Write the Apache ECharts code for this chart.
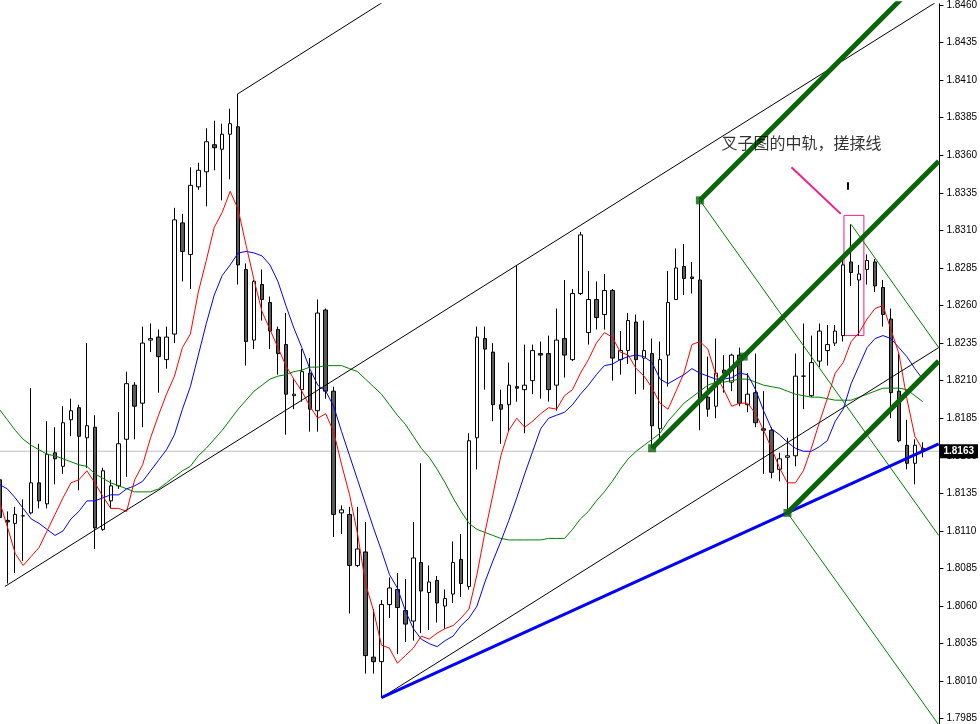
<!DOCTYPE html>
<html>
<head>
<meta charset="utf-8">
<script src="https://cdn.jsdelivr.net/npm/echarts@6/dist/echarts.min.js"></script>
<style>html,body{margin:0;padding:0;background:#fff;}#c{width:980px;height:724px;}</style>
</head>
<body>
<div id="c"></div>
<script>
// first candle index (partially visible bar on the left edge)
const firstIndex = -1;

const opens = [
1.8144,1.8117,1.8115,1.8120,1.8122,1.8142,1.8128,1.8162,1.8153,1.8184,
1.8192,1.8172,1.8179,1.8111,1.8130,1.8140,1.8171,1.8207,1.8195,1.8237,
1.8239,1.8224,1.8241,1.8315,1.8294,1.8339,1.8349,1.8367,1.8364,1.8374,
1.8379,1.8284,1.8237,1.8274,1.8262,1.8244,1.8234,1.8200,1.8204,1.8215,
1.8190,1.8257,1.8203,1.8122,1.8121,1.8087,1.8096,1.8026,1.8023,1.8061,
1.8071,1.8057,1.8050,1.8089,1.8069,1.8077,1.8060,1.8068,1.8091,1.8073,
1.8172,1.8238,1.8229,1.8194,1.8194,1.8206,1.8204,1.8210,1.8228,1.8228,
1.8207,1.8238,1.8224,1.8268,1.8242,1.8264,1.8254,1.8270,1.8224,1.8230,
1.8249,1.8225,1.8228,1.8178,1.8227,1.8264,1.8286,1.8279,1.8277,1.8199,
1.8193,1.8217,1.8209,1.8227,1.8194,1.8202,1.8178,1.8177,1.8151,1.8159,
1.8160,1.8213,1.8200,1.8223,1.8230,1.8235,1.8240,1.8289,1.8277,1.8284,
1.8289,1.8272,1.8251,1.8203,1.8167,1.8155,1.8165];
const closes = [
1.8119,1.8116,1.8121,1.8120,1.8142,1.8130,1.8161,1.8158,1.8182,1.8190,
1.8173,1.8180,1.8112,1.8150,1.8140,1.8168,1.8208,1.8193,1.8235,1.8238,
1.8226,1.8239,1.8317,1.8296,1.8340,1.8350,1.8369,1.8365,1.8374,1.8381,
1.8287,1.8236,1.8276,1.8264,1.8243,1.8228,1.8201,1.8201,1.8216,1.8191,
1.8255,1.8203,1.8121,1.8124,1.8087,1.8098,1.8027,1.8023,1.8061,1.8072,
1.8059,1.8048,1.8092,1.8070,1.8076,1.8062,1.8065,1.8089,1.8075,1.8170,
1.8239,1.8231,1.8194,1.8191,1.8207,1.8205,1.8207,1.8230,1.8227,1.8204,
1.8237,1.8227,1.8268,1.8307,1.8264,1.8252,1.8270,1.8225,1.8230,1.8250,
1.8224,1.8230,1.8180,1.8224,1.8262,1.8285,1.8278,1.8278,1.8198,1.8191,
1.8215,1.8215,1.8227,1.8195,1.8201,1.8182,1.8177,1.8149,1.8158,1.8160,
1.8213,1.8213,1.8222,1.8243,1.8234,1.8243,1.8287,1.8282,1.8281,1.8290,
1.8273,1.8254,1.8202,1.8170,1.8155,1.8167,1.8163];
const lows = [
1.8117,1.8075,1.8082,1.8090,1.8121,1.8125,1.8125,1.8141,1.8148,1.8173,
1.8137,1.8152,1.8098,1.8110,1.8125,1.8138,1.8146,1.8171,1.8179,1.8229,
1.8202,1.8218,1.8235,1.8276,1.8271,1.8337,1.8326,1.8350,1.8330,1.8344,
1.8274,1.8220,1.8231,1.8250,1.8231,1.8214,1.8174,1.8191,1.8196,1.8176,
1.8176,1.8198,1.8106,1.8108,1.8055,1.8086,1.8015,1.8015,1.7999,1.8052,
1.8028,1.8036,1.8037,1.8042,1.8044,1.8049,1.8045,1.8062,1.8066,1.8071,
1.8151,1.8204,1.8183,1.8168,1.8176,1.8196,1.8175,1.8201,1.8198,1.8196,
1.8190,1.8212,1.8223,1.8267,1.8234,1.8244,1.8244,1.8210,1.8214,1.8221,
1.8201,1.8204,1.8165,1.8171,1.8206,1.8264,1.8267,1.8268,1.8177,1.8186,
1.8185,1.8202,1.8203,1.8193,1.8189,1.8179,1.8148,1.8145,1.8143,1.8122,
1.8153,1.8191,1.8199,1.8219,1.8220,1.8233,1.8236,1.8273,1.8240,1.8274,
1.8269,1.8246,1.8185,1.8169,1.8151,1.8141,1.8159];
const highs = [
1.8147,1.8123,1.8126,1.8131,1.8205,1.8168,1.8183,1.8179,1.8193,1.8198,
1.8194,1.8235,1.8187,1.8152,1.8144,1.8189,1.8216,1.8209,1.8246,1.8248,
1.8244,1.8246,1.8325,1.8321,1.8352,1.8355,1.8378,1.8383,1.8381,1.8391,
1.8401,1.8288,1.8277,1.8284,1.8266,1.8246,1.8255,1.8211,1.8231,1.8225,
1.8264,1.8258,1.8206,1.8127,1.8126,1.8126,1.8116,1.8058,1.8064,1.8079,
1.8082,1.8078,1.8116,1.8155,1.8087,1.8080,1.8071,1.8103,1.8108,1.8175,
1.8246,1.8246,1.8235,1.8204,1.8222,1.8287,1.8234,1.8234,1.8236,1.8240,
1.8258,1.8277,1.8271,1.8309,1.8283,1.8276,1.8281,1.8271,1.8243,1.8255,
1.8254,1.8250,1.8238,1.8236,1.8283,1.8298,1.8301,1.8289,1.8330,1.8226,
1.8238,1.8227,1.8228,1.8232,1.8215,1.8228,1.8203,1.8179,1.8162,1.8172,
1.8228,1.8248,1.8240,1.8248,1.8247,1.8247,1.8291,1.8314,1.8287,1.8294,
1.8291,1.8277,1.8258,1.8228,1.8184,1.8171,1.8169];

// moving averages
const maRed = [
1.8130,1.8113,1.8095,1.8087,1.8093,1.8099,1.8110,1.8121,1.8132,1.8142,
1.8144,1.8150,1.8142,1.8133,1.8125,1.8125,1.8123,1.8144,1.8154,1.8172,
1.8187,1.8201,1.8213,1.8232,1.8241,1.8269,1.8290,1.8312,1.8322,1.8336,
1.8324,1.8300,1.8277,1.8256,1.8244,1.8232,1.8220,1.8211,1.8203,1.8193,
1.8185,1.8188,1.8176,1.8154,1.8134,1.8108,1.8075,1.8057,1.8034,1.8032,
1.8022,1.8027,1.8032,1.8040,1.8038,1.8042,1.8045,1.8047,1.8052,1.8058,
1.8081,1.8109,1.8134,1.8160,1.8177,1.8185,1.8179,1.8183,1.8188,1.8192,
1.8191,1.8200,1.8204,1.8215,1.8224,1.8235,1.8242,1.8239,1.8229,1.8227,
1.8218,1.8213,1.8205,1.8195,1.8191,1.8203,1.8215,1.8234,1.8236,1.8231,
1.8214,1.8204,1.8193,1.8195,1.8195,1.8188,1.8177,1.8165,1.8152,1.8142,
1.8142,1.8150,1.8165,1.8182,1.8198,1.8215,1.8222,1.8236,1.8242,1.8251,
1.8258,1.8260,1.8244,1.8228,1.8198,1.8173,1.8164];
const maBlue = [
1.8141,1.8138,1.8132,1.8125,1.8118,1.8115,1.8111,1.8107,1.8110,1.8118,
1.8123,1.8130,1.8130,1.8132,1.8134,1.8134,1.8138,1.8140,1.8143,1.8150,
1.8157,1.8164,1.8174,1.8191,1.8206,1.8227,1.8248,1.8267,1.8280,1.8287,
1.8295,1.8296,1.8295,1.8293,1.8287,1.8276,1.8260,1.8245,1.8232,1.8218,
1.8207,1.8203,1.8193,1.8176,1.8160,1.8144,1.8128,1.8112,1.8097,1.8081,
1.8072,1.8057,1.8045,1.8038,1.8035,1.8033,1.8037,1.8040,1.8047,1.8052,
1.8060,1.8076,1.8090,1.8103,1.8117,1.8132,1.8148,1.8163,1.8178,1.8185,
1.8187,1.8189,1.8194,1.8201,1.8207,1.8214,1.8220,1.8221,1.8224,1.8226,
1.8227,1.8226,1.8222,1.8211,1.8208,1.8211,1.8214,1.8218,1.8215,1.8213,
1.8211,1.8211,1.8212,1.8215,1.8214,1.8204,1.8190,1.8178,1.8174,1.8169,
1.8165,1.8163,1.8163,1.8166,1.8170,1.8183,1.8191,1.8208,1.8220,1.8232,
1.8238,1.8240,1.8238,1.8232,1.8226,1.8218,1.8211];
const maGreen = [
1.8191,1.8184,1.8177,1.8171,1.8167,1.8164,1.8161,1.8160,1.8158,1.8156,
1.8154,1.8153,1.8148,1.8145,1.8142,1.8140,1.8138,1.8136,1.8136,1.8136,
1.8138,1.8142,1.8146,1.8150,1.8153,1.8160,1.8165,1.8171,1.8177,1.8184,
1.8191,1.8197,1.8203,1.8207,1.8211,1.8213,1.8214,1.8216,1.8217,1.8219,
1.8219,1.8220,1.8220,1.8220,1.8218,1.8216,1.8211,1.8206,1.8201,1.8194,
1.8187,1.8181,1.8173,1.8165,1.8159,1.8151,1.8142,1.8132,1.8123,1.8115,
1.8111,1.8109,1.8107,1.8105,1.8104,1.8104,1.8104,1.8104,1.8104,1.8105,
1.8105,1.8105,1.8111,1.8118,1.8123,1.8130,1.8136,1.8143,1.8151,1.8158,
1.8163,1.8167,1.8171,1.8175,1.8183,1.8189,1.8195,1.8199,1.8203,1.8207,
1.8209,1.8209,1.8210,1.8211,1.8211,1.8209,1.8207,1.8206,1.8205,1.8203,
1.8201,1.8200,1.8199,1.8199,1.8198,1.8197,1.8197,1.8197,1.8199,1.8201,
1.8203,1.8205,1.8205,1.8205,1.8204,1.8200,1.8196];

// price-axis tick labels
const yTicks = [1.7985,1.8010,1.8035,1.8060,1.8085,1.8110,1.8135,1.8160,1.8185,1.8210,
1.8235,1.8260,1.8285,1.8310,1.8335,1.8360,1.8385,1.8410,1.8435,1.8460];

// drawn objects: anchors as [bar index, price]
const channelLower = [[-0.3, 1.8073], [117, 1.8463]];
const channelUpper = [[29, 1.8401], [47.5, 1.8463]];
const channelMiddle = [[47, 1.7999], [117, 1.8232]];
const blueTrend = [[47, 1.7999], [117, 1.8168]];
const forkMedian = [[81, 1.8165], [117, 1.8356]];
const forkUpper = [[87, 1.8330], [117, 1.8489]];
const forkLower = [[98, 1.8122], [117, 1.8223]];
const forkAnchors = [[81, 1.8165], [87, 1.8330], [92.5, 1.8226], [98, 1.8122]];
const thinFork1 = [[87, 1.8330], [117, 1.8107]];
const thinFork2 = [[106, 1.8314], [117, 1.8232]];
const thinFork3 = [[98, 1.8122], [117, 1.7981]];
const pinkArrow = [[98.5, 1.8352], [104.7, 1.8321]];
const pinkBox = [[105.1, 1.8320], [107.6, 1.8240]];
const tickMark = [[105.6, 1.8342], [105.6, 1.8337]];
const noteText = '叉子图的中轨，搓揉线';
const notePos = [89.7, 1.8368];
const lastPrice = 1.8163;

const yMin = 1.79815, yMax = 1.84608;
const xMin = -0.9125, xMax = 117.0875;

const candleData = opens.map((o, i) => [i + firstIndex, o, closes[i], lows[i], highs[i]]);
const toPts = arr => arr.map((v, i) => [i + firstIndex, v]);

function seg(pts, color, width, z) {
  return { type: 'line', data: pts, showSymbol: false, symbol: 'none', silent: true, z: z || 5,
    lineStyle: { color: color, width: width }, animation: false };
}

const chart = echarts.init(document.getElementById('c'), null, { renderer: 'canvas' });
chart.setOption({
  animation: false,
  backgroundColor: '#ffffff',
  grid: { left: 0, right: 36, top: 0, bottom: 0, containLabel: false },
  xAxis: { type: 'value', min: xMin, max: xMax, show: false, axisLine: { onZero: false } },
  yAxis: {
    type: 'value', position: 'right', min: yMin, max: yMax, scale: true,
    axisLine: { show: true, onZero: false, lineStyle: { color: '#000', width: 1 } },
    axisTick: { show: true, length: 4, customValues: yTicks, lineStyle: { color: '#000' } },
    splitLine: { show: false },
    axisLabel: { customValues: yTicks, formatter: v => v.toFixed(4), color: '#000', fontSize: 10,
      fontFamily: 'Liberation Sans', margin: 7 }
  },
  series: [
    { type: 'line', data: [[xMin, lastPrice], [xMax, lastPrice]], symbol: 'none', showSymbol: false,
      z: 1, silent: true, lineStyle: { color: '#c0c0c0', width: 1 },
      endLabel: { show: true, distance: 0, formatter: lastPrice.toFixed(4),
        backgroundColor: '#000', color: '#fff', fontWeight: 'bold', fontSize: 10,
        fontFamily: 'Liberation Sans', padding: [2, 4, 2, 4] } },
    { type: 'candlestick', data: candleData, z: 3, barWidth: 4, silent: true,
      dimensions: ['idx', 'open', 'close', 'low', 'high'],
      encode: { x: 'idx', y: ['open', 'close', 'low', 'high'] },
      itemStyle: { color: '#ffffff', color0: '#5a5a5a', borderColor: '#000', borderColor0: '#000', borderWidth: 1 } },
    seg(toPts(maGreen), '#008000', 1, 4),
    seg(toPts(maBlue), '#0000ff', 1, 4),
    seg(toPts(maRed), '#ff0000', 1, 4),
    seg(channelLower, '#000', 1),
    seg(channelUpper, '#000', 1),
    seg(channelMiddle, '#000', 1),
    seg(thinFork1, '#008000', 1),
    seg(thinFork2, '#008000', 1),
    seg(thinFork3, '#008000', 1),
    seg(blueTrend, '#0000ff', 3, 6),
    seg(forkMedian, '#0a640a', 5, 6),
    seg(forkUpper, '#0a640a', 5, 6),
    seg(forkLower, '#0a640a', 5, 6),
    { type: 'scatter', data: forkAnchors, symbol: 'rect', symbolSize: 8, z: 7, silent: true,
      itemStyle: { color: '#0a640a' } },
    seg(pinkArrow, '#ee1f8a', 2, 6),
    seg(tickMark, '#000', 2, 6),
    { type: 'line', data: [pinkBox[0]], symbol: 'none', z: 6, silent: true, lineStyle: { opacity: 0 },
      markArea: { silent: true, itemStyle: { color: 'rgba(0,0,0,0)', borderColor: '#ee1f8a', borderWidth: 1 },
        data: [[{ coord: pinkBox[0] }, { coord: pinkBox[1] }]] } },
    { type: 'scatter', data: [notePos], symbolSize: 0, z: 8, silent: true,
      label: { show: true, position: 'right', distance: 0, formatter: noteText, color: '#000',
        fontSize: 16, fontFamily: 'Noto Sans CJK SC' } }
  ]
});
</script>
</body>
</html>
